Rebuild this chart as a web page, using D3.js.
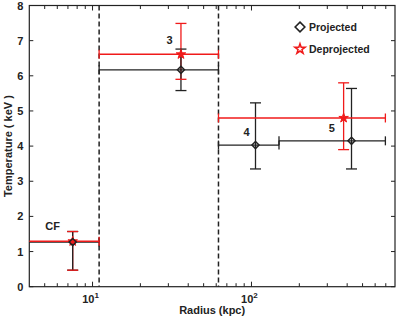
<!DOCTYPE html>
<html>
<head>
<meta charset="utf-8">
<script src="https://cdn.jsdelivr.net/npm/d3@7"></script>
<style>
  body { margin: 0; background: #fff; }
  text { font-family: "Liberation Sans", Arial, sans-serif; font-weight: bold; fill: #222; }
</style>
</head>
<body>
<svg id="chart" width="399" height="322"></svg>
<script>
// bins: label, radius centre, radius range (kpc)
var binLabels = ["CF", "3", "4", "5"];
var projR = [7.5, 36, 106, 426];
var projRLo = [4, 11, 62, 149];
var projRHi = [11, 62, 149, 696];
var projT = [1.27, 6.17, 4.03, 4.15];
var projTLo = [0.47, 5.58, 3.35, 3.35];
var projTHi = [1.57, 6.76, 5.23, 5.64];

// deprojected (bins 4 and 5 combined)
var deprR = [7.5, 36, 380];
var deprRLo = [4, 11, 62];
var deprRHi = [11, 62, 696];
var deprT = [1.29, 6.61, 4.80];
var deprTLo = [0.47, 5.90, 3.90];
var deprTHi = [1.57, 7.49, 5.80];

// shell boundaries (dashed)
var shellEdges = [11, 62];

// bin label anchors (kpc, keV)
var labelR = [5.6, 30.5, 93, 320];
var labelT = [1.6, 6.9, 4.3, 4.4];

var yTicks = [0, 1, 2, 3, 4, 5, 6, 7, 8];
var xMajor = [10, 100];
var xMinor = [5, 6, 7, 8, 9, 20, 30, 40, 50, 60, 70, 80, 90, 200, 300, 400, 500, 600, 700];

var red = "#f01a1a", black = "#222";

var svg = d3.select("#chart");
var padLeft = 29.3, padRight = 395, padTop = 5.5, padBottom = 286.7;

var x = d3.scaleLog().domain([4, 800]).range([padLeft, padRight]);
var y = d3.scaleLinear().domain([0, 8]).range([padBottom, padTop]);

// plot box
svg.append("rect")
    .attr("x", padLeft).attr("y", padTop)
    .attr("width", padRight - padLeft).attr("height", padBottom - padTop)
    .attr("fill", "none").attr("stroke", black).attr("stroke-width", 1.2);

// y ticks (inward, both sides)
var gy = svg.append("g");
yTicks.forEach(function(t) {
    gy.append("line").attr("x1", padLeft).attr("x2", padLeft + 4)
        .attr("y1", y(t)).attr("y2", y(t)).attr("stroke", black);
    gy.append("line").attr("x1", padRight).attr("x2", padRight - 4)
        .attr("y1", y(t)).attr("y2", y(t)).attr("stroke", black);
    gy.append("text").attr("x", padLeft - 6).attr("y", y(t) + 4)
        .attr("text-anchor", "end").attr("font-size", 11).text(t);
});

// x ticks (inward, bottom and top)
var gx = svg.append("g");
xMajor.concat(xMinor).forEach(function(v) {
    var len = xMajor.indexOf(v) >= 0 ? 5 : 3.5;
    gx.append("line").attr("x1", x(v)).attr("x2", x(v))
        .attr("y1", padBottom).attr("y2", padBottom - len).attr("stroke", black);
    gx.append("line").attr("x1", x(v)).attr("x2", x(v))
        .attr("y1", padTop).attr("y2", padTop + len).attr("stroke", black);
});
xMajor.forEach(function(v) {
    var t = gx.append("text").attr("x", x(v) - 2).attr("y", padBottom + 16)
        .attr("text-anchor", "middle").attr("font-size", 11);
    t.append("tspan").text("10");
    t.append("tspan").attr("dy", -5).attr("font-size", 8).text(Math.round(Math.log10(v)));
});

// axis titles
svg.append("text").attr("x", (padLeft + padRight) / 2).attr("y", 314)
    .attr("text-anchor", "middle").attr("font-size", 11).text("Radius (kpc)");
svg.append("text")
    .attr("transform", "translate(12," + ((padTop + padBottom) / 2) + ") rotate(-90)")
    .attr("text-anchor", "middle").attr("font-size", 11).text("Temperature ( keV )");

// dashed shell boundaries
shellEdges.forEach(function(e) {
    svg.append("line").attr("x1", x(e)).attr("x2", x(e))
        .attr("y1", padTop).attr("y2", padBottom)
        .attr("stroke", black).attr("stroke-width", 1.5)
        .attr("stroke-dasharray", "5,3");
});

var projected = projR.map(function(r, i) {
    return {r: r, rlo: projRLo[i], rhi: projRHi[i], t: projT[i], tlo: projTLo[i], thi: projTHi[i]};
});
var deprojected = deprR.map(function(r, i) {
    return {r: r, rlo: deprRLo[i], rhi: deprRHi[i], t: deprT[i], tlo: deprTLo[i], thi: deprTHi[i]};
});

function drawStems(data, color) {
    svg.append("g").selectAll("line").data(data).enter().append("line")
        .attr("x1", function(d) { return x(d.r); })
        .attr("x2", function(d) { return x(d.r); })
        .attr("y1", function(d) { return y(d.tlo); })
        .attr("y2", function(d) { return y(d.thi); })
        .attr("stroke", color).attr("stroke-width", 1.3);
}

function drawCaps(data, color) {
    var g = svg.append("g").attr("stroke", color).attr("stroke-width", 1.3);
    data.forEach(function(d) {
        [d.tlo, d.thi].forEach(function(v) {
            g.append("line").attr("x1", x(d.r) - 5.5).attr("x2", x(d.r) + 5.5)
                .attr("y1", y(v)).attr("y2", y(v));
        });
    });
}

function drawSpans(data, color, width) {
    var g = svg.append("g").attr("stroke", color).attr("stroke-width", width);
    data.forEach(function(d) {
        g.append("line").attr("x1", x(d.rlo)).attr("x2", x(d.rhi))
            .attr("y1", y(d.t)).attr("y2", y(d.t));
        [d.rlo, d.rhi].forEach(function(v) {
            if (v <= 4) return;
            g.append("line").attr("x1", x(v)).attr("x2", x(v))
                .attr("y1", y(d.t) - 4.5).attr("y2", y(d.t) + 4.5)
                .attr("stroke-width", 1.3);
        });
    });
}

drawStems(deprojected, red);
drawStems(projected, black);
drawSpans(projected, black, 1.3);
drawSpans(deprojected, red, 1.5);
drawCaps(projected, black);
drawCaps(deprojected, red);

// markers
var diamond = d3.symbol().type(d3.symbolDiamond2).size(32);
var star = d3.symbol().type(d3.symbolStar).size(28);

svg.append("g").selectAll("path").data(deprojected).enter().append("path")
    .attr("d", star)
    .attr("transform", function(d) { return "translate(" + x(d.r) + "," + y(d.t) + ")"; })
    .attr("fill", red).attr("stroke", red).attr("stroke-width", 1);

svg.append("g").selectAll("path").data(projected).enter().append("path")
    .attr("d", diamond)
    .attr("transform", function(d) { return "translate(" + x(d.r) + "," + y(d.t) + ")"; })
    .attr("fill", "none").attr("stroke", black).attr("stroke-width", 1.5);

// bin labels
binLabels.forEach(function(l, i) {
    svg.append("text").attr("x", x(labelR[i])).attr("y", y(labelT[i]))
        .attr("text-anchor", "middle").attr("font-size", 11).text(l);
});

// legend
var lg = svg.append("g");
lg.append("path").attr("d", d3.symbol().type(d3.symbolDiamond2).size(60))
    .attr("transform", "translate(300,27)")
    .attr("fill", "#fff").attr("stroke", black).attr("stroke-width", 1.6);
lg.append("text").attr("x", 309).attr("y", 31).attr("font-size", 10.5).text("Projected");
lg.append("path").attr("d", d3.symbol().type(d3.symbolStar).size(32))
    .attr("transform", "translate(300,49)")
    .attr("fill", "#fff").attr("stroke", red).attr("stroke-width", 1.5);
lg.append("text").attr("x", 309).attr("y", 53).attr("font-size", 10.5).text("Deprojected");
</script>
</body>
</html>
